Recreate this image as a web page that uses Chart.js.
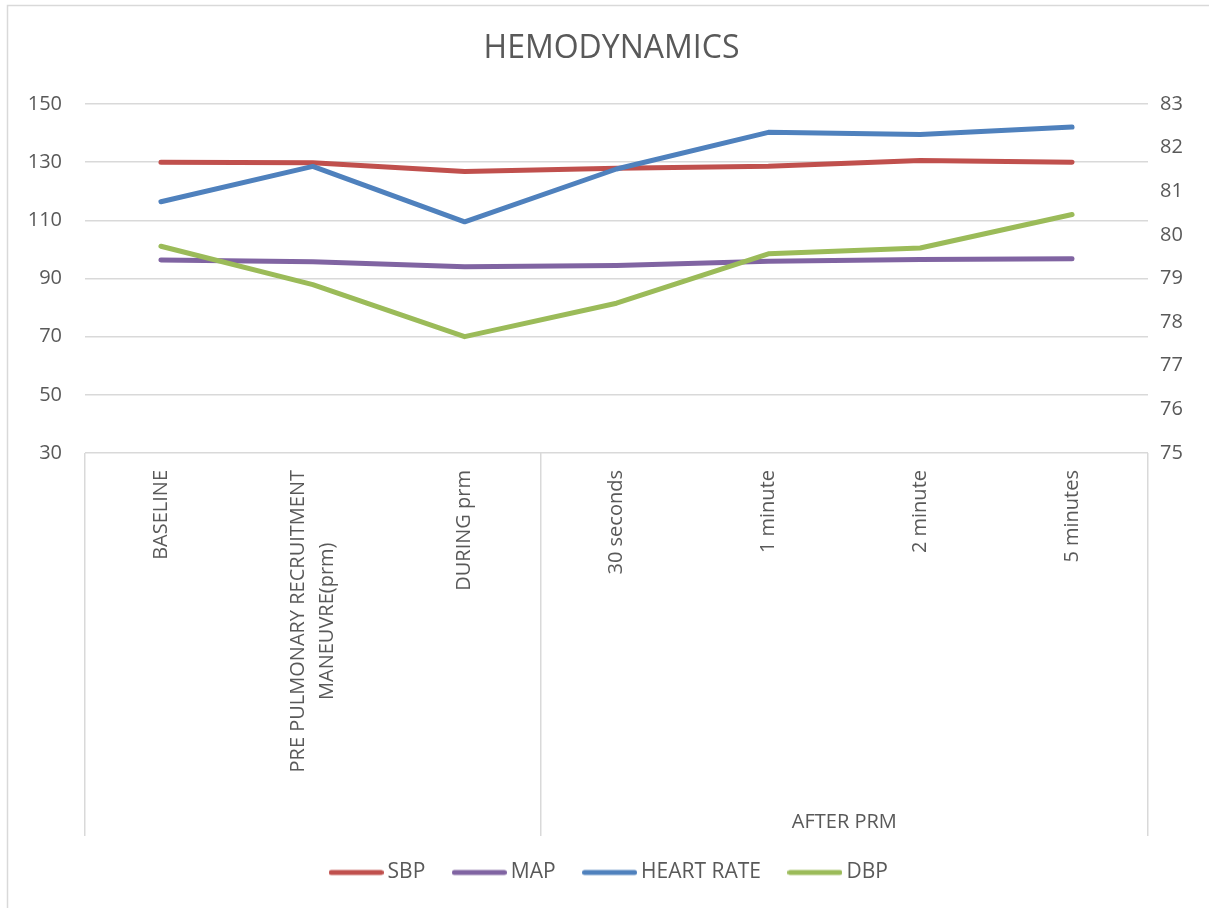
<!DOCTYPE html>
<html>
<head>
<meta charset="utf-8">
<title>HEMODYNAMICS</title>
<script src="https://cdn.jsdelivr.net/npm/chart.js@4.4.1/dist/chart.umd.min.js"></script>
<style>
  html, body { margin: 0; padding: 0; background: #ffffff; overflow: hidden; }
  canvas { display: block; }
</style>
</head>
<body>
<canvas id="chart" width="1209" height="908"></canvas>
<script>
// Time points (a nested array is a label split over two lines)
const categories = [
  'BASELINE',
  ['PRE PULMONARY RECRUITMENT', 'MANEUVRE(prm)'],
  'DURING prm',
  '30 seconds',
  '1 minute',
  '2 minute',
  '5 minutes'
];
// Second-level grouping of the time points
const groupLabels = ['', '', '', 'AFTER PRM', 'AFTER PRM', 'AFTER PRM', 'AFTER PRM'];

// Series (left axis: mmHg, right axis: beats/min)
const sbp       = [130.0, 129.8, 126.8, 127.9, 128.6, 130.6, 130.0];
const map       = [96.4, 95.8, 94.0, 94.5, 95.9, 96.5, 96.8];
const heartRate = [80.76, 81.57, 80.30, 81.51, 82.35, 82.30, 82.47];
const dbp       = [101.1, 87.9, 70.0, 81.5, 98.5, 100.5, 112.0];

// Axis ranges
const leftAxisMin = 30, leftAxisMax = 150, leftAxisStep = 20;
const rightAxisMin = 75, rightAxisMax = 83, rightAxisStep = 1;

const FONT = "'Open Sans', 'Noto Sans', sans-serif";
const TEXT = '#595959';
const GRID = '#D9D9D9';

// Legend swatch: a rounded line slightly wider than the legend box
function lineSwatch(color) {
  const c = document.createElement('canvas');
  c.width = 55; c.height = 8;
  const g = c.getContext('2d');
  g.strokeStyle = color; g.lineWidth = 5; g.lineCap = 'round';
  g.beginPath(); g.moveTo(2.5, 4); g.lineTo(52.5, 4); g.stroke();
  return c;
}

// Frame around the whole chart
const framePlugin = {
  id: 'frame',
  beforeDraw(chart) {
    const ctx = chart.ctx;
    ctx.save();
    ctx.fillStyle = '#ffffff';
    ctx.fillRect(0, 0, chart.width, chart.height);
    ctx.strokeStyle = GRID; ctx.lineWidth = 1.5;
    ctx.beginPath();
    ctx.moveTo(7.5, chart.height + 2);
    ctx.lineTo(7.5, 5.5);
    ctx.lineTo(chart.width + 2, 5.5);
    ctx.stroke();
    ctx.restore();
  }
};

// Vertical category labels and the group label below them
const categoryLabelPlugin = {
  id: 'categoryLabels',
  afterDraw(chart) {
    const xs = chart.scales.x;
    const ctx = chart.ctx;
    ctx.save();
    ctx.font = '20px ' + FONT;
    ctx.fillStyle = TEXT;
    ctx.textBaseline = 'middle';
    ctx.textAlign = 'center';
    const lineH = 29;
    categories.forEach((lab, i) => {
      const lines = Array.isArray(lab) ? lab : [lab];
      const x = xs.getPixelForTick(i);
      const w = Math.max(...lines.map(l => ctx.measureText(l).width));
      const top = xs.top + 17;
      ctx.save();
      ctx.translate(x, top + w / 2);
      ctx.rotate(-Math.PI / 2);
      lines.forEach((l, k) => ctx.fillText(l, 0, (k - (lines.length - 1) / 2) * lineH));
      ctx.restore();
    });
    // group labels centred under their runs of categories
    let start = 0;
    for (let i = 1; i <= groupLabels.length; i++) {
      if (i === groupLabels.length || groupLabels[i] !== groupLabels[start]) {
        const name = groupLabels[start];
        if (name) {
          const x0 = xs.getPixelForValue(start - 0.5);
          const x1 = xs.getPixelForValue(i - 1 + 0.5);
          ctx.fillText(name, (x0 + x1) / 2, xs.top + 369);
        }
        start = i;
      }
    }
    ctx.restore();
  }
};

// Boundaries of the groups get a tall separator mark
const groupStarts = groupLabels.map((g, i) => i === 0 || g !== groupLabels[i - 1]);

const ds = (label, data, color, axis, order) => ({
  label, data, yAxisID: axis, order,
  borderColor: color, backgroundColor: color,
  borderWidth: 5, borderCapStyle: 'round', borderJoinStyle: 'round',
  pointRadius: 0, pointHoverRadius: 0, tension: 0, fill: false
});

new Chart(document.getElementById('chart'), {
  type: 'line',
  data: {
    labels: categories,
    datasets: [
      ds('SBP', sbp, '#C0504D', 'y', 4),
      ds('MAP', map, '#8064A2', 'y', 3),
      ds('HEART RATE', heartRate, '#4F81BD', 'y1', 2),
      ds('DBP', dbp, '#9BBB59', 'y', 1)
    ]
  },
  plugins: [framePlugin, categoryLabelPlugin],
  options: {
    responsive: false,
    animation: false,
    events: [],
    layout: { padding: { left: 14, right: 0, top: 0, bottom: 15 } },
    plugins: {
      title: {
        display: true,
        text: 'HEMODYNAMICS',
        color: TEXT,
        font: { family: FONT, size: 32, weight: 'normal' },
        padding: { top: 30, bottom: 35.6 }
      },
      legend: {
        display: true,
        position: 'bottom',
        labels: {
          usePointStyle: true,
          pointStyleWidth: 42,
          padding: 33,
          color: TEXT,
          font: { family: FONT, size: 21 },
          sort: (a, b) => a.datasetIndex - b.datasetIndex,
          generateLabels(chart) {
            const items = Chart.defaults.plugins.legend.labels.generateLabels(chart);
            items.forEach(it => {
              it.pointStyle = lineSwatch(chart.data.datasets[it.datasetIndex].borderColor);
            });
            return items;
          }
        }
      },
      tooltip: { enabled: false }
    },
    scales: {
      x: {
        type: 'category',
        offset: true,
        border: { display: false },
        grid: {
          offset: true,
          drawOnChartArea: false,
          drawTicks: true,
          tickLength: 383,
          lineWidth: 1.5,
          color: (c) => (c.index === undefined || groupStarts[c.index]) ? GRID : 'rgba(0,0,0,0)'
        },
        ticks: { display: false, autoSkip: false },
        afterFit(scale) { scale.height = 376; }
      },
      y: {
        position: 'left',
        min: leftAxisMin,
        max: leftAxisMax,
        border: { display: false },
        grid: { color: GRID, lineWidth: 1.5, drawTicks: false },
        ticks: {
          stepSize: leftAxisStep,
          padding: 23,
          color: TEXT,
          font: { family: FONT, size: 20 }
        },
        afterFit(scale) { scale.width = 71; }
      },
      y1: {
        position: 'right',
        min: rightAxisMin,
        max: rightAxisMax,
        border: { display: false },
        grid: { display: false, drawTicks: false },
        ticks: {
          stepSize: rightAxisStep,
          padding: 12,
          color: TEXT,
          font: { family: FONT, size: 20 }
        },
        afterFit(scale) { scale.width = 61; }
      }
    }
  }
});
</script>
</body>
</html>
